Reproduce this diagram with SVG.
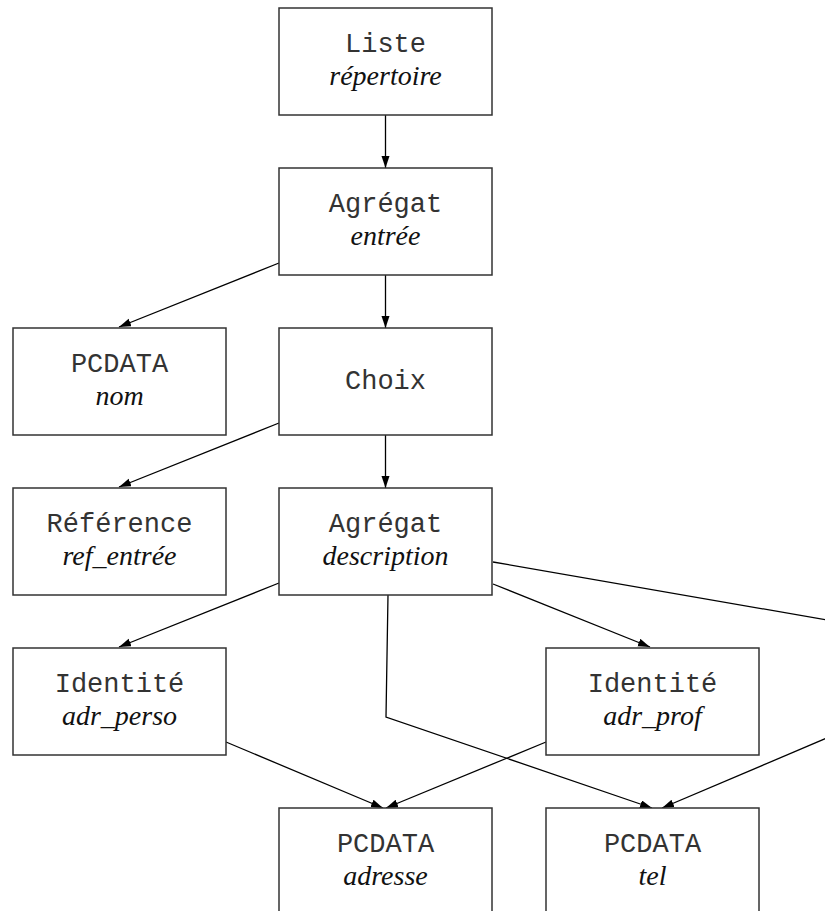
<svg xmlns="http://www.w3.org/2000/svg" width="825" height="911" viewBox="0 0 825 911">
<style>
.box{fill:#fff;stroke:#333;stroke-width:1.5}
.m{font-family:"Liberation Mono","Courier New",monospace;font-size:27px;fill:#333;text-anchor:middle}
.i{font-family:"Liberation Serif","Times New Roman",serif;font-style:italic;font-size:28px;fill:#111;text-anchor:middle}
.e{fill:none;stroke:#000;stroke-width:1.3}
</style>
<defs>
<marker id="arr" markerUnits="userSpaceOnUse" markerWidth="13" markerHeight="9" refX="12" refY="4" orient="auto">
<path d="M0,0 L12,4 L0,8 z" fill="#000"/>
</marker>
</defs>
<g id="connectors">
<path class="e" d="M385.5,115 L385.5,168" marker-end="url(#arr)"/>
<path class="e" d="M279,263 L119,327" marker-end="url(#arr)"/>
<path class="e" d="M385.5,275 L385.5,328" marker-end="url(#arr)"/>
<path class="e" d="M279,423 L119,487" marker-end="url(#arr)"/>
<path class="e" d="M385.5,435 L385.5,488" marker-end="url(#arr)"/>
<path class="e" d="M279,583 L119,647" marker-end="url(#arr)"/>
<path class="e" d="M493,584 L650,647" marker-end="url(#arr)"/>
<path class="e" d="M493,562 L1000,650"/>
<path class="e" d="M388,595 L386,717 L652,808" marker-end="url(#arr)"/>
<path class="e" d="M226,742 L383,808" marker-end="url(#arr)"/>
<path class="e" d="M546,742 L386,808" marker-end="url(#arr)"/>
<path class="e" d="M900,707 L662,808" marker-end="url(#arr)"/>
</g>
<g id="liste_repertoire">
<rect class="box" x="279" y="8" width="213" height="107"/>
<text class="m" x="385.5" y="52">Liste</text>
<text class="i" x="385.5" y="85">répertoire</text>
</g>
<g id="agregat_entree">
<rect class="box" x="279" y="168" width="213" height="107"/>
<text class="m" x="385.5" y="212">Agrégat</text>
<text class="i" x="385.5" y="245">entrée</text>
</g>
<g id="pcdata_nom">
<rect class="box" x="13" y="328" width="213" height="107"/>
<text class="m" x="119.5" y="372">PCDATA</text>
<text class="i" x="119.5" y="405">nom</text>
</g>
<g id="choix">
<rect class="box" x="279" y="328" width="213" height="107"/>
<text class="m" x="385.5" y="389">Choix</text>
</g>
<g id="reference_ref_entree">
<rect class="box" x="13" y="488" width="213" height="107"/>
<text class="m" x="119.5" y="532">Référence</text>
<text class="i" x="119.5" y="565">ref_entrée</text>
</g>
<g id="agregat_description">
<rect class="box" x="279" y="488" width="213" height="107"/>
<text class="m" x="385.5" y="532">Agrégat</text>
<text class="i" x="385.5" y="565">description</text>
</g>
<g id="identite_adr_perso">
<rect class="box" x="13" y="648" width="213" height="107"/>
<text class="m" x="119.5" y="692">Identité</text>
<text class="i" x="119.5" y="725">adr_perso</text>
</g>
<g id="identite_adr_prof">
<rect class="box" x="546" y="648" width="213" height="107"/>
<text class="m" x="652.5" y="692">Identité</text>
<text class="i" x="652.5" y="725">adr_prof</text>
</g>
<g id="pcdata_adresse">
<rect class="box" x="279" y="808" width="213" height="107"/>
<text class="m" x="385.5" y="852">PCDATA</text>
<text class="i" x="385.5" y="885">adresse</text>
</g>
<g id="pcdata_tel">
<rect class="box" x="546" y="808" width="213" height="107"/>
<text class="m" x="652.5" y="852">PCDATA</text>
<text class="i" x="652.5" y="885">tel</text>
</g>
</svg>
